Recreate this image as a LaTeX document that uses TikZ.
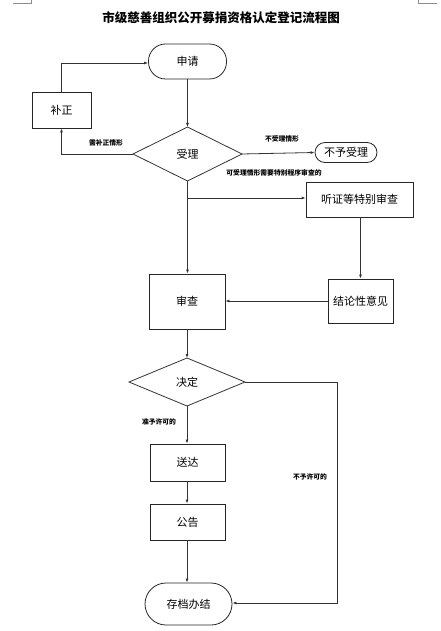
\documentclass[tikz,border=0pt]{standalone}
\usepackage{fontspec}
\setmainfont{Noto Sans CJK SC}
\usetikzlibrary{arrows.meta}
\tikzset{
  every picture/.style={x=1pt,y=-1pt},
  boxnode/.style={draw=black!85,line width=0.8pt,inner sep=0pt,font=\fontsize{11}{12}\selectfont},
  termnode/.style={draw=black!85,line width=0.8pt,rounded corners=17pt,inner sep=0pt,font=\fontsize{11}{12}\selectfont},
  flow/.style={draw=black!80,line width=0.8pt,-{Latex[length=4pt,width=3pt]}},
  plain/.style={draw=black!80,line width=0.8pt},
  lbl/.style={font=\bfseries\fontsize{6.8}{7}\selectfont,inner sep=0pt},
  cornermark/.style={draw=black!45,line width=0.5pt}
}
\begin{document}
\begin{tikzpicture}
\useasboundingbox (0,0) rectangle (441,631);
% corner marks
\draw[cornermark] (13,3) -- (31,3) -- (31,0);
\draw[cornermark] (437,3) -- (418,3) -- (418,0);
% title
\node[font=\bfseries\fontsize{12.5}{14}\selectfont] (title) at (221,18) {市级慈善组织公开募捐资格认定登记流程图};
% nodes
\node[termnode,minimum width=78pt,minimum height=35pt] (apply) at (187.5,61.5) {申请};
\node[boxnode,minimum width=59pt,minimum height=36pt] (fix) at (61.5,110) {补正};
\node[boxnode,minimum width=107pt,minimum height=35pt] (hear) at (359.5,199.5) {听证等特别审查};
\node[termnode,rounded corners=10pt,minimum width=62pt,minimum height=20pt] (rej) at (346,152.5) {不予受理};
\node[boxnode,minimum width=76pt,minimum height=55pt] (rev) at (187,301.5) {审查};
\node[boxnode,minimum width=65pt,minimum height=44pt] (conc) at (360.5,301) {结论性意见};
\node[boxnode,minimum width=75pt,minimum height=37pt] (send) at (187.5,462.5) {送达};
\node[boxnode,minimum width=75pt,minimum height=36pt] (pub) at (187.5,522) {公告};
\node[termnode,rounded corners=21pt,minimum width=87pt,minimum height=42pt] (arch) at (188.5,604) {存档办结};
% diamonds drawn as paths with named coordinates
\coordinate (accL) at (133,154);
\coordinate (accR) at (242,154);
\coordinate (accT) at (187.5,127);
\coordinate (accB) at (187.5,181);
\draw[plain] (accT) -- (accR) -- (accB) -- (accL) -- cycle;
\node[font=\fontsize{11}{12}\selectfont] (acctext) at (187.5,154) {受理};
\coordinate (decL) at (129,382);
\coordinate (decR) at (245,382);
\coordinate (decT) at (187,358);
\coordinate (decB) at (187,406);
\draw[plain] (decT) -- (decR) -- (decB) -- (decL) -- cycle;
\node[font=\fontsize{11}{12}\selectfont] (dectext) at (187,382) {决定};
% connectors
\draw[flow] (apply.south) -- (accT);
\coordinate (c1) at (61.5,63);
\draw[flow] (fix.north) -- (c1) -- (apply.west |- c1);
\coordinate (c2) at (61.5,154);
\draw[flow] (accL) -- (c2) -- (fix.south);
\draw[flow] (accR) -- (rej.west);
\coordinate (c3) at (187.5,198);
\draw[flow] (accB) -- (rev.north -| accB);
\draw[flow] (c3) -- (hear.west |- c3);
\draw[flow] (hear.south -| conc.north) -- (conc.north);
\draw[flow] (conc.west) -- (rev.east |- conc.west);
\draw[flow] (rev.south) -- (decT);
\draw[flow] (decB) -- (send.north -| decB);
\draw[flow] (send.south -| decB) -- (pub.north -| decB);
\draw[flow] (pub.south -| decB) -- (arch.north -| decB);
\coordinate (c4) at (337,382);
\coordinate (c5) at (337,603);
\draw[flow] (decR) -- (c4) -- (c5) -- (arch.east |- c5);
% labels
\node[lbl] (l1) at (106,143) {需补正情形};
\node[lbl] (l2) at (282,138.5) {不受理情形};
\node[lbl] (l3) at (274,173) {可受理情形需要特别程序审查的};
\node[lbl] (l4) at (159,422) {准予许可的};
\node[lbl] (l5) at (310,477) {不予许可的};
\end{tikzpicture}
\end{document}
